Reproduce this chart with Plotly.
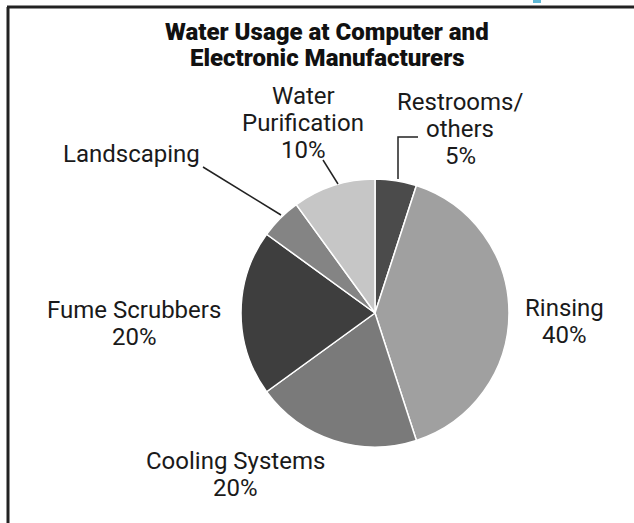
import plotly.graph_objects as go

categories = ["Restrooms/others", "Rinsing", "Cooling Systems", "Fume Scrubbers", "Landscaping", "Water Purification"]
values = [5, 40, 20, 20, 5, 10]
colors = ["#4b4b4b", "#a0a0a0", "#7a7a7a", "#3e3e3e", "#848484", "#c6c6c6"]
label_lines = [["Restrooms/", "others", "5%"], ["Rinsing", "40%"], ["Cooling Systems", "20%"],
               ["Fume Scrubbers", "20%"], ["Landscaping"], ["Water", "Purification", "10%"]]
title_lines = ["Water Usage at Computer and", "Electronic Manufacturers"]

W, H = 634, 523
cx, cy, r = 375, 313, 134

fig = go.Figure()
fig.add_trace(go.Pie(
    labels=categories, values=values, sort=False, direction="clockwise", rotation=0,
    marker=dict(colors=colors, line=dict(color="white", width=1.5)),
    textinfo="none", hoverinfo="label+percent", showlegend=False,
    domain=dict(x=[(cx - r) / W, (cx + r) / W], y=[(H - cy - r) / H, (H - cy + r) / H]),
))

# label positions: (center x, first line y, line spacing) in pixels
label_pos = [(460, 102, 27), (564, 308, 27), (235, 461, 27),
             (134, 310, 27), (131, 154, 27), (303, 96, 27)]
font = dict(family="Roboto, Arial, sans-serif", size=24, color="#1a1a1a")
anns = []
for lines, (x, y0, dy) in zip(label_lines, label_pos):
    for i, t in enumerate(lines):
        anns.append(dict(x=x, y=y0 + i * dy, xref="x", yref="y", text=t, showarrow=False,
                         xanchor="center", yanchor="middle", font=font))
for i, t in enumerate(title_lines):
    anns.append(dict(x=327, y=32 + i * 26, xref="x", yref="y", text=t, showarrow=False,
                     xanchor="center", yanchor="middle",
                     font=dict(family="Roboto, Arial, sans-serif", size=24, color="#111", weight=900)))

shapes = [
    # frame
    dict(type="line", x0=7, y0=7, x1=634, y1=7, xref="x", yref="y", line=dict(color="#222", width=3)),
    dict(type="line", x0=8, y0=7, x1=8, y1=523, xref="x", yref="y", line=dict(color="#222", width=3)),
    # small cut-off fragment at top right
    dict(type="rect", x0=533, y0=0, x1=541, y1=3, xref="x", yref="y", line=dict(width=0), fillcolor="#5fb8d6"),
    # leader lines
    dict(type="path", path="M 398 179 L 398 137 L 418 137", xref="x", yref="y", line=dict(color="#222", width=1.5)),
    dict(type="line", x0=203, y0=167, x1=281, y1=215, xref="x", yref="y", line=dict(color="#222", width=1.5)),
    dict(type="line", x0=323, y0=160, x1=338, y1=184, xref="x", yref="y", line=dict(color="#222", width=1.5)),
]

fig.update_layout(
    width=W, height=H, margin=dict(l=0, r=0, t=0, b=0),
    paper_bgcolor="white", plot_bgcolor="rgba(0,0,0,0)",
    xaxis=dict(range=[0, W], visible=False, domain=[0, 1], fixedrange=True),
    yaxis=dict(range=[H, 0], visible=False, domain=[0, 1], fixedrange=True),
    annotations=anns, shapes=shapes,
)
fig.write_html("out.html", config={"displayModeBar": False},
               post_script="document.body.style.margin='0px';")
